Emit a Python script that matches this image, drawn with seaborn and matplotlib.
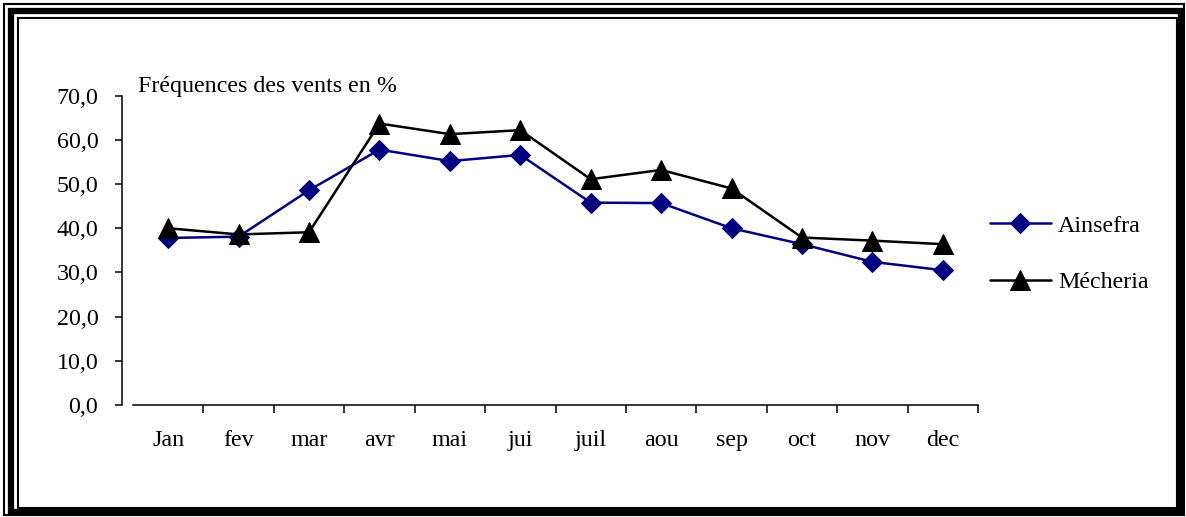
import matplotlib
matplotlib.use("Agg")
import matplotlib.pyplot as plt
from matplotlib.patches import Rectangle
from matplotlib.ticker import FixedLocator, FuncFormatter
import seaborn as sns
import pandas as pd

months = ["Jan", "fev", "mar", "avr", "mai", "jui", "juil", "aou", "sep", "oct", "nov", "dec"]
ainsefra = [37.8, 38.1, 48.6, 57.8, 55.2, 56.6, 45.8, 45.7, 40.0, 36.4, 32.4, 30.5]
mecheria = [40.0, 38.6, 39.1, 63.7, 61.3, 62.2, 51.1, 53.2, 49.0, 37.9, 37.2, 36.4]
y_ticks = [0, 10, 20, 30, 40, 50, 60, 70]

sns.set_style("white")
plt.rcParams["font.family"] = ["Liberation Serif", "DejaVu Serif"]
plt.rcParams["text.color"] = "black"
plt.rcParams["xtick.color"] = "black"
plt.rcParams["ytick.color"] = "black"

FS = 17.3
W, H = 1186, 517
fig = plt.figure(figsize=(W / 100, H / 100), dpi=100)

# plot area in pixel terms
x0, x1, ytop, ybot = 133, 978, 95.7, 405
ax = fig.add_axes([x0 / W, 1 - ybot / H, (x1 - x0) / W, (ybot - ytop) / H])

idx = list(range(len(months)))
df = pd.DataFrame({"idx": idx + idx,
                   "val": ainsefra + mecheria,
                   "site": ["Ainsefra"] * 12 + ["Mécheria"] * 12})

sns.lineplot(data=df[df.site == "Ainsefra"], x="idx", y="val", ax=ax,
             color="#000080", marker="D", markersize=10.5, markeredgecolor="#000080",
             linewidth=1.8, label="Ainsefra", sort=False)
sns.lineplot(data=df[df.site == "Mécheria"], x="idx", y="val", ax=ax,
             color="black", marker="^", markersize=14, markeredgecolor="black",
             linewidth=1.8, label="Mécheria", sort=False)

ax.set_xlim(-0.5, 11.5)
ax.set_ylim(0, 70)
ax.set_xlabel("")
ax.set_ylabel("")

for s in ["top", "right"]:
    ax.spines[s].set_visible(False)
ax.spines["left"].set_position(("outward", 8))
for s in ["left", "bottom"]:
    ax.spines[s].set_linewidth(1.1)
    ax.spines[s].set_color("black")

ax.set_yticks(y_ticks)
ax.yaxis.set_major_formatter(FuncFormatter(lambda v, p: f"{v:.1f}".replace(".", ",")))
ax.tick_params(axis="y", direction="out", length=5, width=1.1, pad=12,
               labelsize=FS, left=True, colors="black")

ax.xaxis.set_major_locator(FixedLocator(idx))
ax.set_xticklabels(months)
ax.xaxis.set_minor_locator(FixedLocator([i + 0.5 for i in idx]))
ax.tick_params(axis="x", which="major", length=0, pad=18, labelsize=FS, colors="black")
ax.tick_params(axis="x", which="minor", direction="out", length=6, width=1.1,
               bottom=True, colors="black")

fig.text(138 / W, 1 - 92 / H, "Fréquences des vents en %", fontsize=FS,
         ha="left", va="baseline", color="black")

ax.get_legend().remove()
handles, labels = ax.get_legend_handles_labels()
fig.legend(handles, labels, loc="center left",
           bbox_to_anchor=(968 / W, 1 - 254 / H), frameon=False, fontsize=FS,
           handlelength=2.55, handletextpad=0.3, labelspacing=1.45,
           labelcolor="black")

# triple-line frame around the whole chart
def frame(l, t, r, b, lw):
    fig.patches.append(Rectangle((l / W, 1 - b / H), (r - l) / W, (b - t) / H,
                                 transform=fig.transFigure, fill=False,
                                 edgecolor="black", linewidth=lw))

frame(4, 4, 1184, 515, 1.5)
frame(11, 11, 1181, 512, 4.5)
frame(18, 18, 1177, 508, 1.5)

fig.savefig("out.png", dpi=100)
